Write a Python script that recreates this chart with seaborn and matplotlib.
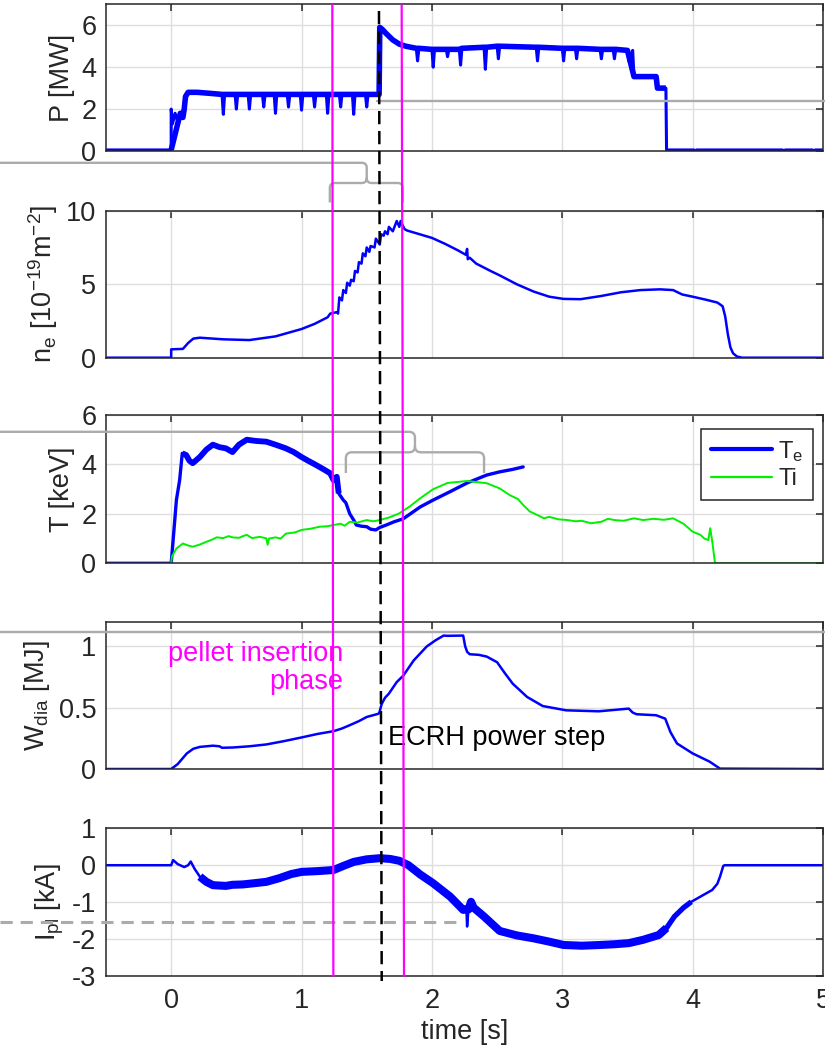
import matplotlib
matplotlib.use("Agg")
import matplotlib.pyplot as plt
import seaborn as sns
import pandas as pd
from matplotlib.lines import Line2D
from matplotlib.path import Path
from matplotlib.patches import PathPatch
from matplotlib.ticker import FuncFormatter
from matplotlib.transforms import Affine2D, blended_transform_factory

# ---------------------------------------------------------------- data
# heating power P [MW] (time [s], value)
power_mw = [(-0.5, 0.05), (-0.3, 0.05), (-0.1, 0.05), (0.0, 0.05),
            (0.0, 2.0), (0.01, 1.3), (0.03, 1.8), (0.05, 1.4), (0.07, 1.8), (0.09, 1.6),
            (0.10, 2.0), (0.11, 2.6), (0.13, 2.8), (0.20, 2.8), (0.30, 2.75),
            (0.39, 2.7), (0.40, 1.75), (0.41, 2.7), (0.49, 2.7), (0.50, 2.0), (0.51, 2.7),
            (0.59, 2.7), (0.60, 2.0), (0.61, 2.7), (0.70, 2.7), (0.71, 2.1), (0.72, 2.7),
            (0.79, 2.7), (0.80, 1.8), (0.81, 2.7), (0.89, 2.7), (0.90, 2.1), (0.91, 2.7),
            (0.99, 2.7), (1.00, 1.95), (1.01, 2.7), (1.09, 2.7), (1.10, 2.1), (1.11, 2.7),
            (1.19, 2.7), (1.20, 1.8), (1.21, 2.7), (1.29, 2.7), (1.30, 2.1), (1.31, 2.7),
            (1.39, 2.7), (1.40, 1.75), (1.41, 2.7), (1.49, 2.7), (1.50, 2.1), (1.51, 2.7),
            (1.595, 2.7), (1.60, 5.9), (1.62, 5.8), (1.65, 5.6), (1.70, 5.3), (1.75, 5.1),
            (1.80, 5.0), (1.88, 4.9), (1.89, 4.3), (1.90, 4.9), (2.00, 4.85), (2.01, 4.0),
            (2.02, 4.85), (2.11, 4.85), (2.12, 4.5), (2.13, 4.85), (2.21, 4.85), (2.22, 4.1),
            (2.23, 4.9), (2.40, 4.95), (2.41, 3.9), (2.42, 4.95), (2.50, 5.0), (2.51, 4.4),
            (2.52, 5.0), (2.80, 4.95), (2.81, 4.3), (2.82, 4.95), (3.00, 4.9), (3.01, 4.3),
            (3.02, 4.9), (3.10, 4.9), (3.11, 4.4), (3.12, 4.9), (3.29, 4.85), (3.30, 4.4),
            (3.31, 4.85), (3.39, 4.85), (3.40, 4.4), (3.41, 4.85), (3.50, 4.8), (3.51, 4.3),
            (3.54, 4.8), (3.55, 3.55), (3.72, 3.55), (3.73, 3.0), (3.795, 3.0), (3.80, 0.05),
            (4.01, 0.05), (4.02, -0.15), (4.03, 0.05), (4.69, 0.05), (4.70, -0.15), (4.71, 0.05),
            (4.92, 0.05), (4.93, -0.15), (4.94, 0.05), (5.0, 0.05)]

# line-integrated density n_e [1e19 m^-2]
density = [(-0.5, 0.0), (0.0, 0.0), (0.0, 0.57), (0.09, 0.6), (0.13, 1.0), (0.17, 1.3),
           (0.22, 1.36), (0.40, 1.25), (0.60, 1.2), (0.80, 1.45), (1.00, 1.95), (1.10, 2.3),
           (1.20, 2.75), (1.22, 3.0), (1.27, 3.1), (1.28, 3.0), (1.29, 4.1), (1.31, 3.9),
           (1.32, 4.6), (1.34, 4.4), (1.35, 5.1), (1.37, 4.9), (1.38, 5.3), (1.40, 5.2),
           (1.41, 5.9), (1.43, 5.8), (1.44, 6.5), (1.46, 6.4), (1.47, 7.1), (1.49, 6.9),
           (1.50, 7.5), (1.52, 7.2), (1.53, 7.6), (1.56, 7.5), (1.57, 8.1), (1.60, 7.7),
           (1.61, 8.4), (1.63, 8.3), (1.64, 8.6), (1.66, 8.4), (1.67, 8.9), (1.70, 8.6),
           (1.73, 9.3), (1.75, 8.9), (1.76, 9.3), (1.79, 8.75), (1.81, 8.65), (2.00, 8.15),
           (2.10, 7.75), (2.20, 7.3), (2.26, 7.0), (2.27, 7.4), (2.275, 6.7), (2.29, 6.8),
           (2.34, 6.4), (2.45, 5.9), (2.52, 5.6), (2.65, 5.0), (2.78, 4.5), (2.90, 4.15),
           (3.01, 4.0), (3.14, 3.98), (3.30, 4.2), (3.45, 4.45), (3.60, 4.6), (3.75, 4.65),
           (3.85, 4.6), (3.92, 4.3), (4.00, 4.15), (4.10, 3.95), (4.19, 3.75), (4.23, 3.5),
           (4.25, 2.8), (4.27, 1.6), (4.29, 0.7), (4.31, 0.3), (4.34, 0.08), (4.38, 0.0),
           (5.0, 0.0)]

# electron temperature T_e [keV]
temp_e = [(-0.5, 0.0), (0.0, 0.0), (0.015, 0.94), (0.04, 2.56), (0.065, 3.37), (0.085, 4.45),
          (0.115, 4.38), (0.14, 4.15), (0.165, 4.05), (0.22, 4.3), (0.27, 4.6), (0.32, 4.8),
          (0.37, 4.7), (0.42, 4.65), (0.47, 4.5), (0.52, 4.8), (0.58, 5.0), (0.65, 4.95),
          (0.73, 4.92), (0.80, 4.8), (0.88, 4.65), (0.94, 4.5), (1.00, 4.3), (1.05, 4.15),
          (1.11, 3.98), (1.17, 3.8), (1.22, 3.64), (1.245, 3.37), (1.27, 3.5), (1.285, 2.83),
          (1.32, 2.56), (1.34, 2.45), (1.37, 2.0), (1.40, 1.75), (1.42, 1.55), (1.46, 1.5),
          (1.50, 1.48), (1.53, 1.38), (1.57, 1.35), (1.60, 1.45), (1.65, 1.55), (1.71, 1.68),
          (1.78, 1.8), (1.91, 2.28), (2.01, 2.56), (2.14, 2.9), (2.27, 3.25), (2.42, 3.57),
          (2.52, 3.7), (2.62, 3.8), (2.70, 3.9)]

# ion temperature T_i [keV]
temp_i = [(0.0, 0.0), (0.005, 0.27), (0.04, 0.6), (0.09, 0.8), (0.13, 0.72), (0.165, 0.67),
          (0.22, 0.76), (0.27, 0.87), (0.31, 0.95), (0.35, 1.05), (0.40, 1.02), (0.44, 1.1),
          (0.47, 1.05), (0.52, 1.03), (0.55, 1.1), (0.58, 1.15), (0.62, 1.02), (0.68, 1.07),
          (0.73, 1.01), (0.74, 0.75), (0.75, 1.0), (0.80, 1.05), (0.84, 1.0), (0.88, 1.2),
          (0.95, 1.25), (1.00, 1.35), (1.07, 1.4), (1.14, 1.48), (1.20, 1.5), (1.245, 1.55),
          (1.30, 1.6), (1.33, 1.52), (1.37, 1.68), (1.43, 1.65), (1.50, 1.75), (1.55, 1.7),
          (1.60, 1.75), (1.67, 1.85), (1.75, 2.02), (1.83, 2.3), (1.91, 2.63), (2.01, 3.0),
          (2.12, 3.25), (2.27, 3.33), (2.32, 3.3), (2.42, 3.24), (2.52, 3.03), (2.60, 2.75),
          (2.66, 2.6), (2.70, 2.36), (2.75, 2.1), (2.81, 1.95), (2.86, 1.82), (2.90, 1.88),
          (2.97, 1.78), (3.04, 1.75), (3.10, 1.7), (3.15, 1.72), (3.22, 1.62), (3.30, 1.68),
          (3.35, 1.8), (3.40, 1.75), (3.47, 1.72), (3.55, 1.82), (3.62, 1.75), (3.70, 1.8),
          (3.78, 1.76), (3.85, 1.82), (3.93, 1.6), (4.00, 1.28), (4.06, 1.15), (4.09, 1.0),
          (4.12, 0.94), (4.135, 1.42), (4.15, 0.9), (4.17, 0.07), (4.175, 0.0), (5.0, 0.0)]

# diamagnetic energy W_dia [MJ]
energy = [(-0.5, 0.0), (0.0, 0.0), (0.05, 0.04), (0.12, 0.127), (0.17, 0.165), (0.22, 0.18),
          (0.32, 0.19), (0.37, 0.185), (0.39, 0.173), (0.47, 0.175), (0.60, 0.185), (0.73, 0.2),
          (0.87, 0.228), (1.00, 0.257), (1.12, 0.285), (1.245, 0.308), (1.31, 0.33),
          (1.37, 0.357), (1.44, 0.39), (1.50, 0.424), (1.59, 0.45), (1.597, 0.46),
          (1.615, 0.53), (1.64, 0.58), (1.67, 0.614), (1.73, 0.708), (1.78, 0.76),
          (1.86, 0.884), (1.96, 0.998), (2.03, 1.05), (2.09, 1.087), (2.12, 1.085),
          (2.24, 1.087), (2.255, 1.0), (2.27, 0.955), (2.29, 0.935), (2.36, 0.93),
          (2.42, 0.916), (2.50, 0.87), (2.56, 0.78), (2.62, 0.695), (2.73, 0.587),
          (2.85, 0.513), (3.03, 0.478), (3.28, 0.47), (3.51, 0.492), (3.54, 0.46),
          (3.57, 0.446), (3.72, 0.438), (3.79, 0.41), (3.83, 0.3), (3.88, 0.208),
          (4.00, 0.127), (4.13, 0.06), (4.21, 0.003), (5.0, 0.0)]

# plasma current I_pl [kA]
current = [(-0.5, 0.0), (0.0, 0.0), (0.015, 0.14), (0.05, 0.03), (0.10, -0.05), (0.13, 0.0),
           (0.15, 0.1), (0.18, -0.1), (0.22, -0.31), (0.27, -0.45), (0.32, -0.54), (0.42, -0.56),
           (0.47, -0.53), (0.55, -0.52), (0.63, -0.49), (0.73, -0.45), (0.83, -0.35),
           (0.92, -0.24), (1.00, -0.18), (1.12, -0.16), (1.245, -0.13), (1.32, -0.02),
           (1.40, 0.09), (1.50, 0.16), (1.60, 0.19), (1.68, 0.17), (1.75, 0.12), (1.82, 0.0),
           (1.91, -0.25), (2.01, -0.49), (2.14, -0.85), (2.24, -1.21), (2.265, -1.2),
           (2.27, -1.66), (2.28, -1.2), (2.30, -0.99), (2.32, -1.15), (2.40, -1.39),
           (2.52, -1.78), (2.65, -1.9), (2.78, -1.98), (2.90, -2.07), (3.01, -2.16),
           (3.15, -2.18), (3.29, -2.16), (3.40, -2.14), (3.51, -2.11), (3.62, -2.02),
           (3.74, -1.89), (3.80, -1.7), (3.86, -1.39), (3.93, -1.15), (3.99, -0.99),
           (4.07, -0.83), (4.15, -0.67), (4.19, -0.5), (4.21, -0.31), (4.235, -0.02),
           (4.245, 0.0), (5.0, 0.0)]

# event times [s]
pellet_start, pellet_end = 1.24, 1.775
ecrh_step = 1.60

y_labels = ["P [MW]", r"n$_e$ [10$^{-19}$m$^{-2}$]", "T [keV]",
            r"W$_{dia}$ [MJ]", r"I$_{pl}$ [kA]"]
y_limits = [(0, 7), (0, 10), (0, 6), (0, 1.2), (-3, 1)]
y_ticks = [[0, 2, 4, 6], [0, 5, 10], [0, 2, 4, 6], [0, 0.5, 1], [-3, -2, -1, 0, 1]]
x_ticks = [0, 1, 2, 3, 4, 5]

# ---------------------------------------------------------------- style
sns.set_theme(style="whitegrid")
plt.rcParams.update({
    "font.family": ["Liberation Sans", "DejaVu Sans"],
    "mathtext.default": "regular",
    "axes.unicode_minus": False,
    "axes.edgecolor": "#262626",
    "axes.linewidth": 1.1,
    "grid.color": "#dedede",
    "grid.linewidth": 1.0,
    "xtick.color": "#262626",
    "ytick.color": "#262626",
    "text.color": "#262626",
    "axes.labelcolor": "#262626",
})

BLUE, GREEN, MAGENTA, GREY = "#0000ff", "#00f000", "#ff00ff", "#ababab"
FS = 19.5

W_PX, H_PX = 825, 1046
fig = plt.figure(figsize=(W_PX / 100, H_PX / 100), dpi=100)
panels_px = [(4.3, 151.0), (210.7, 357.7), (415.0, 563.3), (621.7, 769.0), (828.3, 976.0)]
left_px, right_px = 106.0, 823.0
axes = [fig.add_axes([left_px / W_PX, 1 - b / H_PX, (right_px - left_px) / W_PX, (b - t) / H_PX])
        for t, b in panels_px]


def without_spikes(df, thr):
    """Drop isolated single-sample excursions so the noise band stays smooth."""
    v = df["value"].to_numpy()
    keep = [True] * len(v)
    for k in range(1, len(v) - 1):
        if v[k] < min(v[k - 1], v[k + 1]) - thr or v[k] > max(v[k - 1], v[k + 1]) + thr:
            keep[k] = False
    return df[keep]


def trace(ax, points, color, lw, bands=(), thr=0.25):
    """Draw a signal; each (t0, t1, width) in bands thickens its noisy stretch."""
    df = pd.DataFrame(points, columns=["time", "value"])
    sns.lineplot(data=df, x="time", y="value", ax=ax, color=color, lw=lw,
                 estimator=None, sort=False, legend=False, solid_joinstyle="round")
    smooth = without_spikes(df, thr)
    for t0, t1, width in bands:
        sub = smooth[(smooth.time >= t0) & (smooth.time <= t1)]
        sns.lineplot(data=sub, x="time", y="value", ax=ax, color=color, lw=width,
                     estimator=None, sort=False, legend=False,
                     solid_joinstyle="round", solid_capstyle="butt")


trace(axes[0], power_mw, BLUE, 2.2, bands=[(0.0, 3.795, 4.0)], thr=0.3)
trace(axes[1], density, BLUE, 1.8)
trace(axes[2], temp_e, BLUE, 2.4, bands=[(0.07, 1.30, 4.2)])
trace(axes[2], temp_i, GREEN, 1.4)
trace(axes[3], energy, BLUE, 1.8)
trace(axes[4], current, BLUE, 1.8, bands=[(0.2, 3.80, 5.8), (3.74, 3.99, 3.8)], thr=0.2)

for i, ax in enumerate(axes):
    ax.set_xlim(-0.5, 5)
    ax.set_ylim(*y_limits[i])
    ax.set_xticks(x_ticks)
    ax.set_yticks(y_ticks[i])
    ax.yaxis.set_major_formatter(FuncFormatter(lambda v, _: f"{v:g}"))
    ax.tick_params(direction="in", length=5, width=1.1, top=True, right=True,
                   labelsize=FS, pad=7)
    ax.tick_params(axis="x", pad=9)
    ax.set_ylabel(y_labels[i], fontsize=FS, labelpad=4.5)
    ax.set_xlabel("")
    ax.grid(True)
    ax.set_axisbelow(True)
    for s in ax.spines.values():
        s.set_visible(True)
        s.set_color("#262626")
    if i < 4:
        ax.tick_params(labelbottom=False)

axes[4].set_xlabel("time [s]", fontsize=FS, labelpad=3)

# legend in the temperature panel
handles = [Line2D([], [], color=BLUE, lw=3.0), Line2D([], [], color=GREEN, lw=1.6)]
leg = axes[2].legend(handles, [r"T$_e$", "Ti"], loc="upper right",
                     bbox_to_anchor=(0.9856, 0.904), borderaxespad=0, fontsize=17,
                     handlelength=2.6, handletextpad=0.25, labelspacing=0.2,
                     borderpad=0.4, fancybox=False, framealpha=1)
leg.get_frame().set_edgecolor("#262626")
leg.get_frame().set_linewidth(1.1)

# annotations
axes[3].text(1.318, 0.823, "pellet insertion\nphase", color=MAGENTA, fontsize=FS,
             ha="right", va="center", multialignment="right", linespacing=1.12)
axes[3].text(1.665, 0.249, "ECRH power step", color="black", fontsize=FS,
             ha="left", va="center")

# overlay lines: x in time, y in pixels from the top of the figure
ytop = Affine2D().scale(1, -1 / H_PX).translate(0, 1) + fig.transFigure
mix = blended_transform_factory(axes[0].transData, ytop)
t_fig_left = axes[0].transData.inverted().transform(fig.transFigure.transform((0, 0)))[0]
t_fig_right = axes[0].transData.inverted().transform(fig.transFigure.transform((1, 0)))[0]


def overlay(xs, ys, **kw):
    fig.add_artist(Line2D(xs, ys, transform=mix, clip_on=False, **kw))


for t_top, t_bot in [(pellet_start - 0.004, pellet_start + 0.004),
                     (pellet_end - 0.007, pellet_end + 0.011)]:
    overlay([t_top, t_bot], [5.0, 976.0], color=MAGENTA, lw=1.6, zorder=6)
overlay([ecrh_step - 0.006, ecrh_step + 0.015], [11.0, 981.0], color="black", lw=1.8,
        ls=(0, (5.3, 2.7)), zorder=7)

overlay([1.577, t_fig_right], [100.6, 100.6], color=GREY, lw=1.7, zorder=5)
overlay([t_fig_left, t_fig_right], [632.0, 632.0], color=GREY, lw=1.7, zorder=5)
overlay([t_fig_left, 2.241], [921.7, 921.7], color=GREY, lw=2.2, ls=(0, (4.0, 2.6)), zorder=5)


def brace(x0, x1, xc, y_lead, y_arm, y_end, r_px=6.0):
    rx = r_px / 130.3
    V = [(t_fig_left, y_lead), (xc - rx, y_lead), (xc, y_lead), (xc, y_lead + r_px),
         (xc, y_arm - r_px), (xc, y_arm), (xc - rx, y_arm),
         (x0 + rx, y_arm), (x0, y_arm), (x0, y_arm + r_px), (x0, y_end),
         (xc, y_arm - r_px), (xc, y_arm), (xc + rx, y_arm),
         (x1 - rx, y_arm), (x1, y_arm), (x1, y_arm + r_px), (x1, y_end)]
    C = [Path.MOVETO, Path.LINETO, Path.CURVE3, Path.CURVE3,
         Path.LINETO, Path.CURVE3, Path.CURVE3,
         Path.LINETO, Path.CURVE3, Path.CURVE3, Path.LINETO,
         Path.MOVETO, Path.CURVE3, Path.CURVE3,
         Path.LINETO, Path.CURVE3, Path.CURVE3, Path.LINETO]
    patch = PathPatch(Path(V, C), transform=mix, fill=False, edgecolor=GREY, lw=1.7,
                      clip_on=False, zorder=5, capstyle="butt", joinstyle="round")
    fig.add_artist(patch)


brace(1.217, 1.776, 1.50, 162.8, 183.0, 202.5, r_px=5.0)
brace(1.34, 2.40, 1.87, 431.8, 452.3, 473.0, r_px=6.0)

fig.savefig("out.png", dpi=100)
